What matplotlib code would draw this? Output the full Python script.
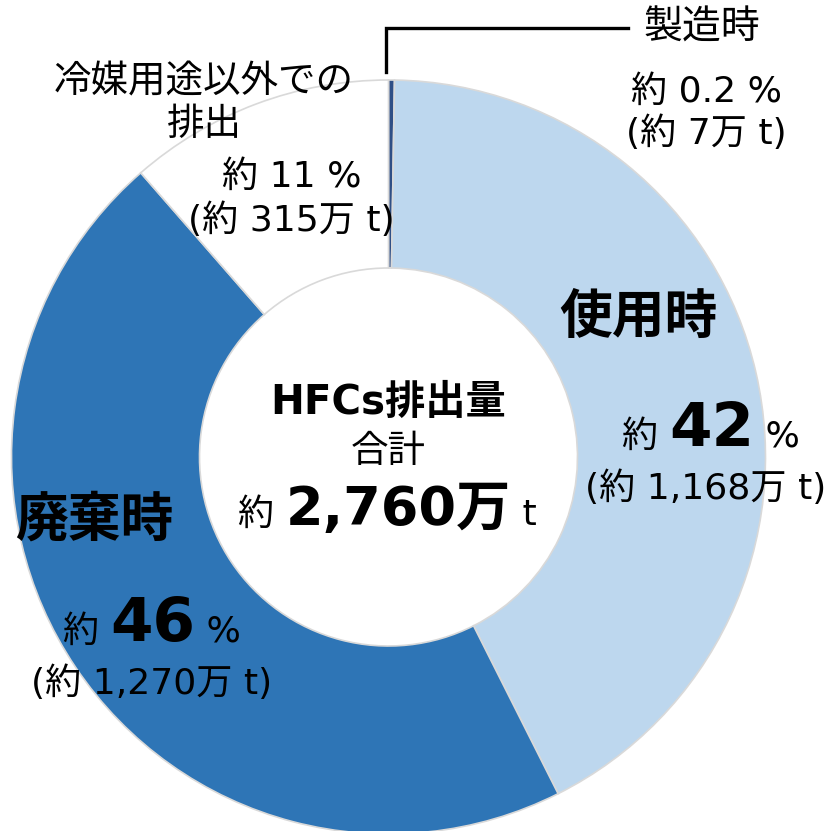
import matplotlib
matplotlib.use("Agg")
import matplotlib.pyplot as plt
from matplotlib.offsetbox import TextArea, HPacker, AnnotationBbox

# DejaVu first for the Verdana-like latin digits, CJK glyphs fall back to Noto
plt.rcParams['font.family'] = ['DejaVu Sans', 'Noto Sans CJK JP']

# data (万 t)
labels = ['製造時', '使用時', '廃棄時', '冷媒用途以外での排出']
values = [7, 1168, 1270, 315]
shares = ['0.2', '42', '46', '11']
total = 2760
colors = ['#2F4F86', '#BDD7EE', '#2E75B6', '#FFFFFF']

W, H = 838, 831
fig = plt.figure(figsize=(W / 100, H / 100), dpi=100)
ax = fig.add_axes([0, 0, 1, 1])

cx, cy = 388.5, H - 457
r_out, r_in = 377, 189
ax.pie(values, colors=colors, startangle=90, counterclock=False,
       center=(cx, cy), radius=r_out, frame=True,
       wedgeprops=dict(width=r_out - r_in, edgecolor='#D9D9D9', linewidth=1.2))
ax.set_xlim(0, W)
ax.set_ylim(0, H)
ax.set_aspect('equal')
ax.axis('off')


def rich(x, y, parts, base=26):
    # parts: list of (text, size, weight); y in pixels from top
    boxes = []
    for t, s, w in parts:
        boxes.append(TextArea(t, textprops=dict(fontsize=s if s else base,
                                                 fontweight=w, color='black')))
    pack = HPacker(children=boxes, align='baseline', pad=0, sep=0)
    ab = AnnotationBbox(pack, (x, H - y), xycoords='data', frameon=False,
                        box_alignment=(0.5, 0.5), pad=0)
    ax.add_artist(ab)


def txt(x, y, s, size=27, weight='normal'):
    ax.text(x, H - y, s, fontsize=size, fontweight=weight, ha='center', va='center')


# leader line for 製造時
ax.plot([386, 386, 628], [H - 72, H - 28, H - 28], color='black', lw=2.4,
        solid_joinstyle='miter')

# 製造時
txt(702, 28, labels[0], size=28)
rich(706, 92, [('約 ' + shares[0] + ' %', None, 'normal')])
rich(706, 133, [('(約 %d万 t)' % values[0], None, 'normal')])

# 冷媒用途以外での排出
txt(204, 82, '冷媒用途以外での')
txt(204, 125, '排出')
rich(292, 177, [('約 ' + shares[3] + ' %', None, 'normal')])
rich(291, 220, [('(約 %d万 t)' % values[3], None, 'normal')])

# 使用時
txt(638, 318, labels[1], size=38, weight='bold')
rich(711, 430, [('約 ', None, 'normal'), (shares[1], 44, 'bold'), (' %', None, 'normal')])
rich(706, 488, [('(約 {:,}万 t)'.format(values[1]), None, 'normal')])

# 廃棄時
txt(94, 521, labels[2], size=38, weight='bold')
rich(152, 625, [('約 ', None, 'normal'), (shares[2], 44, 'bold'), (' %', None, 'normal')])
rich(152, 683, [('(約 {:,}万 t)'.format(values[2]), None, 'normal')])

# center
txt(388, 403, 'HFCs排出量', size=29, weight='bold')
txt(388, 452, '合計', size=27)
rich(387, 510, [('約 ', None, 'normal'), ('{:,}万'.format(total), 39, 'bold'),
                (' t', None, 'normal')])

fig.savefig('out.png', dpi=100)
